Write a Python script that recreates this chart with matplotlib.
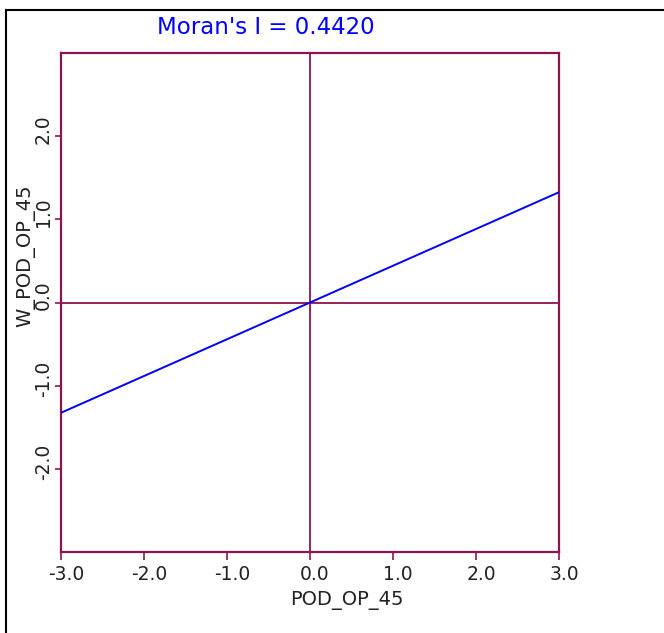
import matplotlib
matplotlib.use("Agg")
import matplotlib.pyplot as plt
import matplotlib.transforms as mtransforms
from matplotlib.lines import Line2D
import numpy as np

# Moran scatterplot regression line for POD_OP_45
moran_i = 0.4420
x_ends = [-3.0, 3.0]
x_ticks = [-3.0, -2.0, -1.0, 0.0, 1.0, 2.0, 3.0]
y_ticks = [-2.0, -1.0, 0.0, 1.0, 2.0]
x_name = "POD_OP_45"
y_name = "W_POD_OP_45"

frame_col = '#8C1450'
W, H = 664, 633

fig = plt.figure(figsize=(W / 100, H / 100), dpi=100)
fig.set_facecolor('white')
ax = fig.add_axes([61 / W, 81 / H, 498 / W, 499 / H])

x_line = np.array(x_ends)
ax.plot(x_line, moran_i * x_line, color='#0000FF', lw=1.4, zorder=3)

# zero cross-hairs
ax.axhline(0, color=frame_col, lw=1.3, zorder=2)
ax.axvline(0, color=frame_col, lw=1.3, zorder=2)

ax.set_xlim(-3, 3)
ax.set_ylim(-3, 3)
for s in ax.spines.values():
    s.set_color(frame_col)
    s.set_linewidth(1.6)

ax.set_xticks(x_ticks)
ax.set_xticklabels(['%.1f' % v for v in x_ticks])
ax.set_yticks(y_ticks)
ax.set_yticklabels(['%.1f' % v for v in y_ticks], rotation=90, va='center')
ax.tick_params(axis='x', length=6, width=1.2, color=frame_col, labelsize=13.5,
               labelcolor='#222222', pad=3)
ax.tick_params(axis='y', length=4, width=1.2, color=frame_col, labelsize=13.5,
               labelcolor='#222222', pad=2)

# nudge labels the way the original renderer places them
dx = mtransforms.ScaledTranslation(5 / 100, 0, fig.dpi_scale_trans)
for lab in ax.get_xticklabels():
    lab.set_transform(lab.get_transform() + dx)
dy = mtransforms.ScaledTranslation(0, 7 / 100, fig.dpi_scale_trans)
for lab in ax.get_yticklabels():
    lab.set_transform(lab.get_transform() + dy)

fig.text(266 / W, 1 - 27 / H, "Moran's I = %.4f" % moran_i, color='#0000FF',
         fontsize=16.5, ha='center', va='center')
fig.text(347 / W, 1 - 600 / H, x_name, color='#222222', fontsize=14,
         ha='center', va='center')
fig.text(26 / W, 1 - 256 / H, y_name, color='#222222', fontsize=14,
         ha='center', va='center', rotation=90)

# window border along top and left
fig.add_artist(Line2D([6 / W, 1], [1 - 10 / H, 1 - 10 / H], color='black', lw=1.5,
                      transform=fig.transFigure))
fig.add_artist(Line2D([6 / W, 6 / W], [0, 1 - 10 / H], color='black', lw=1.5,
                      transform=fig.transFigure))

fig.savefig('out.png', dpi=100, facecolor='white')
